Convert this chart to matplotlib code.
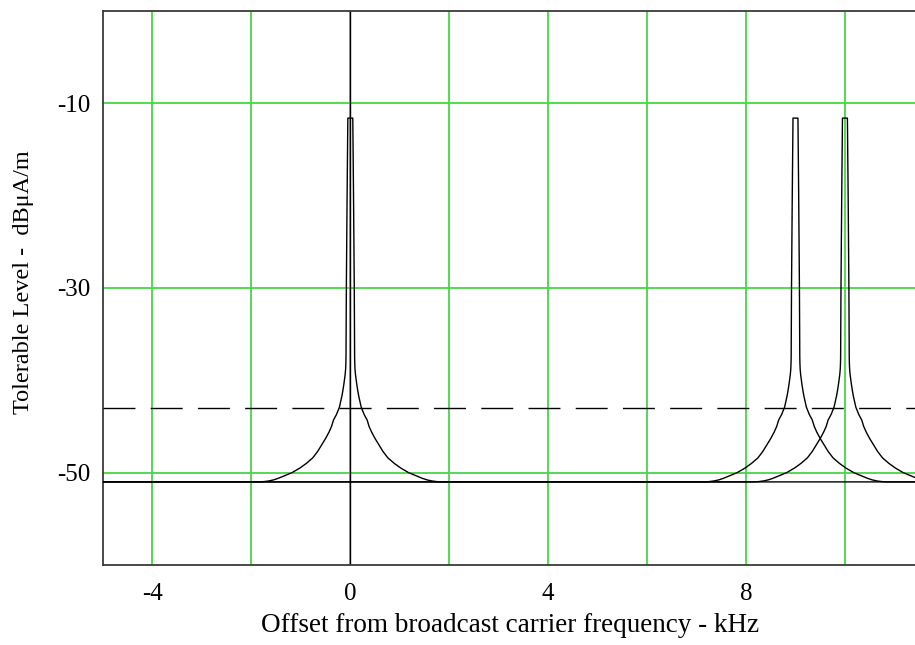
import numpy as np
import matplotlib
matplotlib.use("Agg")
import matplotlib.pyplot as plt

plt.rcParams['font.family'] = ['Liberation Serif', 'DejaVu Serif']

# Carrier offsets (kHz) of the three protection masks
carriers_khz = [0.0, 9.0, 10.0]

# One-sided mask shape: offset from carrier (kHz) vs tolerable level (dBuA/m)
profile_offset_khz = [0.00, 0.05, 0.065, 0.08, 0.087, 0.09, 0.095, 0.105, 0.115,
                      0.13, 0.15, 0.17, 0.195, 0.22, 0.25, 0.28, 0.34, 0.38,
                      0.43, 0.50, 0.58, 0.66, 0.76, 0.89, 1.02, 1.18, 1.36,
                      1.45, 1.55, 1.65, 1.75, 1.85]
profile_level_db = [-11.6, -11.6, -20.0, -30.0, -37.4, -38.2, -38.8, -39.4, -39.8,
                    -40.4, -41.1, -41.7, -42.3, -42.9, -43.3, -43.7, -44.3, -45.0,
                    -45.6, -46.3, -47.0, -47.7, -48.4, -49.0, -49.5, -50.0, -50.4,
                    -50.6, -50.78, -50.9, -50.97, -51.0]
floor_level_db = -51.0

# Reference threshold (dashed)
threshold_db = -43.0

x_limits = (-5.0, 11.74)
y_limits = (-60.0, 0.0)
x_grid = [-4, -2, 0, 2, 4, 6, 8, 10]
x_tick_labels = ['-4', '', '0', '', '4', '', '8', '']
y_grid = [-10, -30, -50]
y_tick_labels = ['-10', '-30', '-50']

fig = plt.figure(figsize=(9.15, 6.45), dpi=100)
left, right, bottom, top = 103 / 915, 931 / 915, 1 - 565 / 645, 1 - 11 / 645
ax = fig.add_axes([left, bottom, right - left, top - bottom])

ax.set_xlim(*x_limits)
ax.set_ylim(*y_limits)

ax.set_xticks(x_grid)
ax.set_xticklabels(x_tick_labels)
ax.set_yticks(y_grid)
ax.set_yticklabels(y_tick_labels)
ax.tick_params(axis='both', length=0, labelsize=18, colors='black')
ax.tick_params(axis='x', pad=13)
ax.tick_params(axis='y', pad=9)
ax.grid(True, color='#45d845', linewidth=1.3)
ax.set_axisbelow(True)

for sp in ax.spines.values():
    sp.set_color('#3a3a3a')
    sp.set_linewidth(1.3)

# Vertical line through the wanted carrier
ax.axvline(0, color='black', linewidth=1.0, zorder=2)

# Dashed threshold
ax.axhline(threshold_db, color='black', linewidth=1.0, dashes=(23, 11), zorder=3)

offs = np.array(profile_offset_khz)
lev = np.array(profile_level_db)
for c in carriers_khz:
    xs = np.concatenate(([x_limits[0]], c - offs[::-1], c + offs, [x_limits[1] + 1]))
    ys = np.concatenate(([floor_level_db], lev[::-1], lev, [floor_level_db]))
    ax.plot(xs, ys, color='black', linewidth=1.0, zorder=4, solid_joinstyle='round')

ax.set_xlabel('Offset from broadcast carrier frequency - kHz', fontsize=19.5)
ax.xaxis.set_label_coords((510 - 103) / (931 - 103), -(626 - 565) / (565 - 11))
ax.set_ylabel('Tolerable Level -  dBμA/m', fontsize=17.5)
ax.yaxis.set_label_coords(-(103 - 23) / (931 - 103), (565 - 282) / (565 - 11))
ax.xaxis.label.set_verticalalignment('center')
ax.yaxis.label.set_verticalalignment('center')

fig.savefig('out.png', dpi=100)
